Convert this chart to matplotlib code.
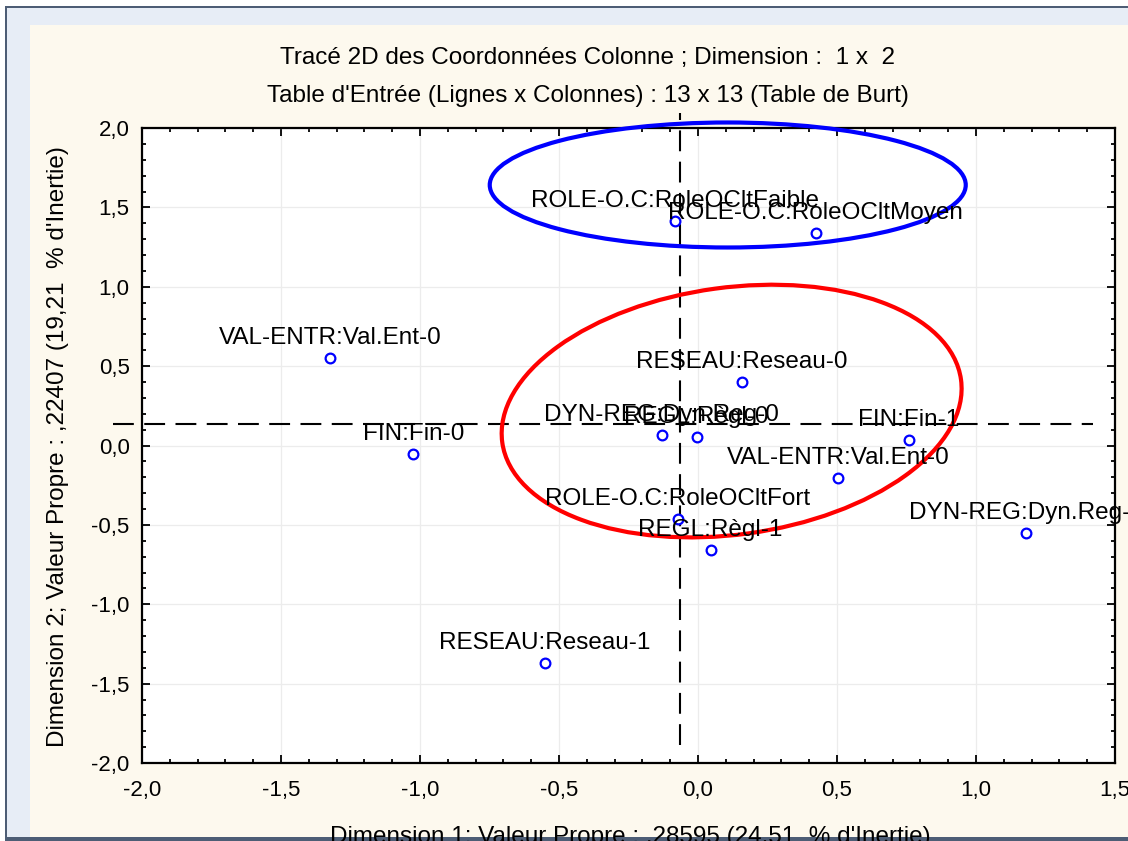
import matplotlib
matplotlib.use("Agg")
import matplotlib.pyplot as plt
from matplotlib import transforms
from matplotlib.patches import Ellipse, Rectangle
from matplotlib.ticker import FuncFormatter, MultipleLocator

plt.rcParams["font.family"] = ["Liberation Sans", "DejaVu Sans"]

# column coordinates (dimension 1, dimension 2)
labels = [
    "ROLE-O.C:RoleOCltFaible",
    "ROLE-O.C:RoleOCltMoyen",
    "VAL-ENTR:Val.Ent-0",
    "FIN:Fin-0",
    "RESEAU:Reseau-0",
    "DYN-REG:Dyn.Reg-0",
    "REGL:Règl-0",
    "FIN:Fin-1",
    "VAL-ENTR:Val.Ent-0",
    "ROLE-O.C:RoleOCltFort",
    "REGL:Règl-1",
    "DYN-REG:Dyn.Reg-1",
    "RESEAU:Reseau-1",
]
dim1 = [-0.081, 0.423, -1.323, -1.024, 0.157, -0.131, -0.005, 0.758, 0.503, -0.073, 0.045, 1.180, -0.552]
dim2 = [1.414, 1.339, 0.551, -0.054, 0.400, 0.066, 0.054, 0.035, -0.205, -0.463, -0.658, -0.551, -1.370]

# hand-drawn reference lines and groupings
h_line_y = 0.135
h_line_x = (-2.104, 1.421)
v_line_x = -0.066
v_line_y = (-1.887, 2.094)
blue_center = (0.107, 1.641)
red_center = (0.121, 0.217)

W, H = 1128, 841
fig = plt.figure(figsize=(W / 100, H / 100), dpi=100, facecolor="white")


def px_rect(x0, y0, x1, y1, color):
    fig.add_artist(Rectangle((x0 / W, 1 - y1 / H), (x1 - x0) / W, (y1 - y0) / H,
                             transform=fig.transFigure, facecolor=color,
                             edgecolor="none", zorder=-10))


# window frame of the screenshot
px_rect(5, 6, W, H, "#4d5d75")
px_rect(7, 8, W, 837, "#e7edf6")
px_rect(30, 25, W, 837, "#fdf9ee")

ax = fig.add_axes([142 / W, 1 - 763 / H, (1115 - 142) / W, (763 - 128) / H])
ax.set_facecolor("white")
ax.set_xlim(-2.0, 1.5)
ax.set_ylim(-2.0, 2.0)

fmt = FuncFormatter(lambda v, _: f"{v:.1f}".replace(".", ","))
ax.xaxis.set_major_locator(MultipleLocator(0.5))
ax.xaxis.set_minor_locator(MultipleLocator(0.1))
ax.yaxis.set_major_locator(MultipleLocator(0.5))
ax.yaxis.set_minor_locator(MultipleLocator(0.1))
ax.xaxis.set_major_formatter(fmt)
ax.yaxis.set_major_formatter(fmt)
ax.tick_params(which="both", direction="in", top=True, right=True, width=1.3, color="black")
ax.tick_params(which="major", length=6, labelsize=16)
ax.tick_params(which="minor", length=3)
ax.tick_params(axis="x", pad=12)
ax.tick_params(axis="y", pad=9)
for s in ax.spines.values():
    s.set_linewidth(1.6)
ax.grid(True, which="major", color="#ececec", linewidth=0.9)
ax.set_axisbelow(True)

dash = dict(color="black", linewidth=1.5, dashes=(10, 5), clip_on=False, zorder=3)
ax.plot(h_line_x, [h_line_y, h_line_y], **dash)
ax.plot([v_line_x, v_line_x], v_line_y, **dash)

blue = Ellipse((0, 0), 4.76, 1.25, angle=0,
               transform=fig.dpi_scale_trans + transforms.ScaledTranslation(*blue_center, ax.transData),
               fill=False, edgecolor="#0000ff", linewidth=3, clip_on=False, zorder=4)
red = Ellipse((0, 0), 4.63, 2.47, angle=7.8,
              transform=fig.dpi_scale_trans + transforms.ScaledTranslation(*red_center, ax.transData),
              fill=False, edgecolor="#ff0000", linewidth=3, clip_on=False, zorder=4)
ax.add_patch(blue)
ax.add_patch(red)

ax.plot(dim1, dim2, linestyle="none", marker="o", markersize=7, markerfacecolor="white",
        markeredgecolor="#0000ff", markeredgewidth=1.6, zorder=5, clip_on=False)
for x, y, name in zip(dim1, dim2, labels):
    ax.annotate(name, (x, y), xytext=(0, 10), textcoords="offset points",
                ha="center", va="baseline", fontsize=17.5, color="black",
                zorder=6, annotation_clip=False)

fig.text(588 / W, 1 - 58 / H, "Tracé 2D des Coordonnées Colonne ; Dimension :  1 x  2",
         ha="center", va="center", fontsize=17.5)
fig.text(588 / W, 1 - 96 / H, "Table d'Entrée (Lignes x Colonnes) : 13 x 13 (Table de Burt)",
         ha="center", va="center", fontsize=17.5)
fig.text(58 / W, 1 - 447 / H, "Dimension 2; Valeur Propre : ,22407 (19,21  % d'Inertie)",
         ha="center", va="center", rotation=90, fontsize=17.5)
fig.text(630 / W, 1 - 843 / H, "Dimension 1; Valeur Propre : ,28595 (24,51  % d'Inertie)",
         ha="center", va="baseline", fontsize=17.5, zorder=-5)
px_rect(5, 837, W, H, "#4d5d75")

fig.savefig("out.png", dpi=100, facecolor=fig.get_facecolor())
